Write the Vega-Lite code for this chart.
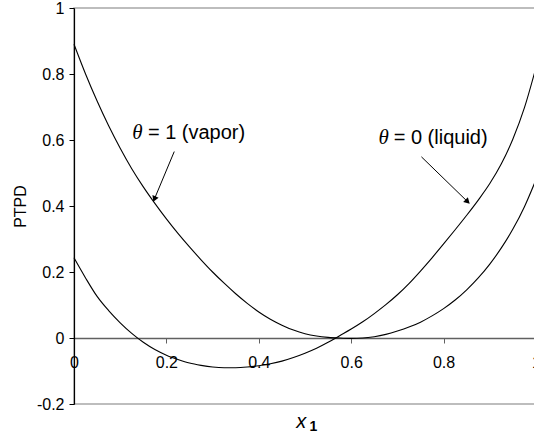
{
  "$schema": "https://vega.github.io/schema/vega-lite/v6.json",
  "width": 462,
  "height": 396,
  "autosize": "none",
  "padding": {"left": 74, "top": 8, "right": 0, "bottom": 32},
  "background": "white",
  "config": {
    "font": "Liberation Sans",
    "view": {"stroke": "#a8a8a8", "strokeWidth": 1.5}
  },
  "datasets": {
    "curves": [
      {"series": "vapor", "x1": 0.0, "ptpd": 0.890},
      {"series": "vapor", "x1": 0.025, "ptpd": 0.800},
      {"series": "vapor", "x1": 0.05, "ptpd": 0.718},
      {"series": "vapor", "x1": 0.075, "ptpd": 0.643},
      {"series": "vapor", "x1": 0.1, "ptpd": 0.575},
      {"series": "vapor", "x1": 0.125, "ptpd": 0.513},
      {"series": "vapor", "x1": 0.15, "ptpd": 0.458},
      {"series": "vapor", "x1": 0.175, "ptpd": 0.408},
      {"series": "vapor", "x1": 0.2, "ptpd": 0.361},
      {"series": "vapor", "x1": 0.225, "ptpd": 0.317},
      {"series": "vapor", "x1": 0.25, "ptpd": 0.276},
      {"series": "vapor", "x1": 0.275, "ptpd": 0.237},
      {"series": "vapor", "x1": 0.3, "ptpd": 0.200},
      {"series": "vapor", "x1": 0.325, "ptpd": 0.166},
      {"series": "vapor", "x1": 0.35, "ptpd": 0.134},
      {"series": "vapor", "x1": 0.375, "ptpd": 0.105},
      {"series": "vapor", "x1": 0.4, "ptpd": 0.079},
      {"series": "vapor", "x1": 0.425, "ptpd": 0.057},
      {"series": "vapor", "x1": 0.45, "ptpd": 0.039},
      {"series": "vapor", "x1": 0.475, "ptpd": 0.024},
      {"series": "vapor", "x1": 0.5, "ptpd": 0.013},
      {"series": "vapor", "x1": 0.525, "ptpd": 0.006},
      {"series": "vapor", "x1": 0.55, "ptpd": 0.002},
      {"series": "vapor", "x1": 0.575, "ptpd": 0.000},
      {"series": "vapor", "x1": 0.6, "ptpd": -0.001},
      {"series": "vapor", "x1": 0.625, "ptpd": 0.000},
      {"series": "vapor", "x1": 0.65, "ptpd": 0.004},
      {"series": "vapor", "x1": 0.675, "ptpd": 0.011},
      {"series": "vapor", "x1": 0.7, "ptpd": 0.021},
      {"series": "vapor", "x1": 0.725, "ptpd": 0.033},
      {"series": "vapor", "x1": 0.75, "ptpd": 0.048},
      {"series": "vapor", "x1": 0.775, "ptpd": 0.067},
      {"series": "vapor", "x1": 0.8, "ptpd": 0.089},
      {"series": "vapor", "x1": 0.825, "ptpd": 0.115},
      {"series": "vapor", "x1": 0.85, "ptpd": 0.146},
      {"series": "vapor", "x1": 0.875, "ptpd": 0.182},
      {"series": "vapor", "x1": 0.9, "ptpd": 0.224},
      {"series": "vapor", "x1": 0.925, "ptpd": 0.273},
      {"series": "vapor", "x1": 0.95, "ptpd": 0.330},
      {"series": "vapor", "x1": 0.975, "ptpd": 0.398},
      {"series": "vapor", "x1": 1.0, "ptpd": 0.480},
      {"series": "liquid", "x1": 0.0, "ptpd": 0.243},
      {"series": "liquid", "x1": 0.025, "ptpd": 0.182},
      {"series": "liquid", "x1": 0.05, "ptpd": 0.126},
      {"series": "liquid", "x1": 0.075, "ptpd": 0.083},
      {"series": "liquid", "x1": 0.1, "ptpd": 0.046},
      {"series": "liquid", "x1": 0.125, "ptpd": 0.014},
      {"series": "liquid", "x1": 0.15, "ptpd": -0.013},
      {"series": "liquid", "x1": 0.175, "ptpd": -0.035},
      {"series": "liquid", "x1": 0.2, "ptpd": -0.052},
      {"series": "liquid", "x1": 0.225, "ptpd": -0.065},
      {"series": "liquid", "x1": 0.25, "ptpd": -0.076},
      {"series": "liquid", "x1": 0.275, "ptpd": -0.083},
      {"series": "liquid", "x1": 0.3, "ptpd": -0.088},
      {"series": "liquid", "x1": 0.325, "ptpd": -0.090},
      {"series": "liquid", "x1": 0.35, "ptpd": -0.090},
      {"series": "liquid", "x1": 0.375, "ptpd": -0.088},
      {"series": "liquid", "x1": 0.4, "ptpd": -0.084},
      {"series": "liquid", "x1": 0.425, "ptpd": -0.078},
      {"series": "liquid", "x1": 0.45, "ptpd": -0.070},
      {"series": "liquid", "x1": 0.475, "ptpd": -0.059},
      {"series": "liquid", "x1": 0.5, "ptpd": -0.046},
      {"series": "liquid", "x1": 0.525, "ptpd": -0.031},
      {"series": "liquid", "x1": 0.55, "ptpd": -0.013},
      {"series": "liquid", "x1": 0.575, "ptpd": 0.007},
      {"series": "liquid", "x1": 0.6, "ptpd": 0.027},
      {"series": "liquid", "x1": 0.625, "ptpd": 0.049},
      {"series": "liquid", "x1": 0.65, "ptpd": 0.074},
      {"series": "liquid", "x1": 0.675, "ptpd": 0.101},
      {"series": "liquid", "x1": 0.7, "ptpd": 0.131},
      {"series": "liquid", "x1": 0.725, "ptpd": 0.165},
      {"series": "liquid", "x1": 0.75, "ptpd": 0.203},
      {"series": "liquid", "x1": 0.775, "ptpd": 0.243},
      {"series": "liquid", "x1": 0.8, "ptpd": 0.285},
      {"series": "liquid", "x1": 0.825, "ptpd": 0.328},
      {"series": "liquid", "x1": 0.85, "ptpd": 0.372},
      {"series": "liquid", "x1": 0.875, "ptpd": 0.418},
      {"series": "liquid", "x1": 0.9, "ptpd": 0.468},
      {"series": "liquid", "x1": 0.925, "ptpd": 0.528},
      {"series": "liquid", "x1": 0.95, "ptpd": 0.603},
      {"series": "liquid", "x1": 0.975, "ptpd": 0.698},
      {"series": "liquid", "x1": 1.0, "ptpd": 0.820}
    ],
    "arrows": [
      {"series": "vapor", "x1": 0.217, "ptpd": 0.565, "x1End": 0.174, "ptpdEnd": 0.421},
      {"series": "liquid", "x1": 0.752, "ptpd": 0.549, "x1End": 0.852, "ptpdEnd": 0.413}
    ],
    "labels": [
      {"series": "vapor", "symbol": "θ", "rest": "= 1 (vapor)", "x1": 0.126, "x1Rest": 0.16, "ptpd": 0.62},
      {"series": "liquid", "symbol": "θ", "rest": "= 0 (liquid)", "x1": 0.659, "x1Rest": 0.692, "ptpd": 0.606}
    ],
    "xtitle": [
      {"part": "x", "x1": 0.492, "ptpd": -0.255},
      {"part": "1", "x1": 0.518, "ptpd": -0.27}
    ]
  },
  "layer": [
    {
      "data": {"name": "curves"},
      "mark": {"type": "line", "color": "black", "strokeWidth": 1.1, "interpolate": "monotone"},
      "encoding": {
        "x": {
          "field": "x1",
          "type": "quantitative",
          "scale": {"domain": [0, 1], "nice": false, "zero": false},
          "axis": {
            "values": [0, 0.2, 0.4, 0.6, 0.8, 1],
            "format": ".1~f",
            "offset": -66,
            "grid": false,
            "title": null,
            "domainColor": "#606060",
            "domainWidth": 1.5,
            "tickColor": "#606060",
            "tickSize": 5,
            "labelFontSize": 16,
            "labelColor": "black",
            "labelPadding": 11,
            "labelFlush": false,
            "labelOverlap": false
          }
        },
        "y": {
          "field": "ptpd",
          "type": "quantitative",
          "scale": {"domain": [-0.2, 1], "nice": false, "zero": false},
          "axis": {
            "values": [-0.2, 0, 0.2, 0.4, 0.6, 0.8, 1],
            "format": ".1~f",
            "labelExpr": "replace(datum.label, '−', '-')",
            "grid": false,
            "title": "PTPD",
            "titleFontSize": 16,
            "titleFontWeight": "normal",
            "titleColor": "black",
            "titlePadding": 8,
            "domainColor": "black",
            "domainWidth": 1.2,
            "tickColor": "black",
            "tickSize": 5,
            "labelFontSize": 16,
            "labelColor": "black",
            "labelPadding": 5,
            "labelFlush": false,
            "labelOverlap": false
          }
        },
        "detail": {"field": "series"}
      }
    },
    {
      "data": {"name": "arrows"},
      "mark": {"type": "rule", "color": "black", "strokeWidth": 1},
      "encoding": {
        "x": {"field": "x1", "type": "quantitative"},
        "y": {"field": "ptpd", "type": "quantitative"},
        "x2": {"field": "x1End"},
        "y2": {"field": "ptpdEnd"}
      }
    },
    {
      "data": {"name": "arrows"},
      "transform": [{"filter": "datum.series === 'vapor'"}],
      "mark": {"type": "point", "shape": "triangle-up", "filled": true, "color": "black", "size": 45, "angle": 203, "opacity": 1},
      "encoding": {
        "x": {"field": "x1End", "type": "quantitative"},
        "y": {"field": "ptpdEnd", "type": "quantitative"}
      }
    },
    {
      "data": {"name": "arrows"},
      "transform": [{"filter": "datum.series === 'liquid'"}],
      "mark": {"type": "point", "shape": "triangle-up", "filled": true, "color": "black", "size": 45, "angle": 134, "opacity": 1},
      "encoding": {
        "x": {"field": "x1End", "type": "quantitative"},
        "y": {"field": "ptpdEnd", "type": "quantitative"}
      }
    },
    {
      "data": {"name": "labels"},
      "mark": {"type": "text", "font": "Liberation Serif", "fontStyle": "italic", "fontSize": 21, "align": "left", "baseline": "middle", "color": "black"},
      "encoding": {
        "x": {"field": "x1", "type": "quantitative"},
        "y": {"field": "ptpd", "type": "quantitative"},
        "text": {"field": "symbol"}
      }
    },
    {
      "data": {"name": "labels"},
      "mark": {"type": "text", "font": "Liberation Sans", "fontSize": 20, "align": "left", "baseline": "middle", "color": "black"},
      "encoding": {
        "x": {"field": "x1Rest", "type": "quantitative"},
        "y": {"field": "ptpd", "type": "quantitative"},
        "text": {"field": "rest"}
      }
    },
    {
      "data": {"name": "xtitle"},
      "transform": [{"filter": "datum.part === 'x'"}],
      "mark": {"type": "text", "font": "Liberation Sans", "fontStyle": "italic", "fontSize": 20, "align": "center", "baseline": "middle", "color": "black"},
      "encoding": {
        "x": {"field": "x1", "type": "quantitative"},
        "y": {"field": "ptpd", "type": "quantitative"},
        "text": {"field": "part"}
      }
    },
    {
      "data": {"name": "xtitle"},
      "transform": [{"filter": "datum.part === '1'"}],
      "mark": {"type": "text", "font": "Liberation Sans", "fontWeight": "bold", "fontSize": 14, "align": "center", "baseline": "middle", "color": "black"},
      "encoding": {
        "x": {"field": "x1", "type": "quantitative"},
        "y": {"field": "ptpd", "type": "quantitative"},
        "text": {"field": "part"}
      }
    }
  ]
}
